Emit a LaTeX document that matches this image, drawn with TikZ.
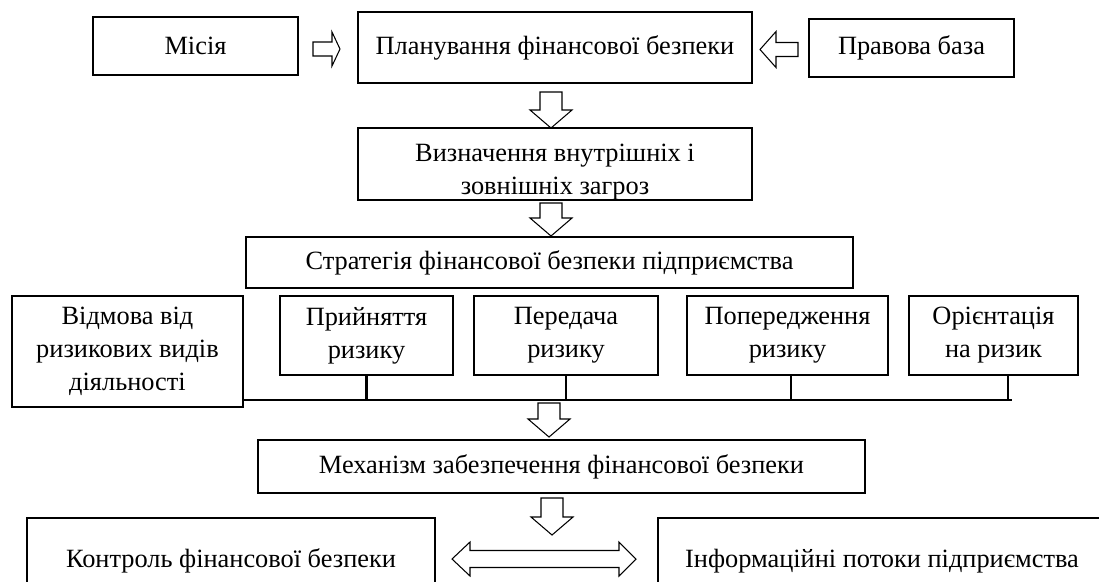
\documentclass[tikz,border=0pt]{standalone}
\usepackage{fontspec}
\setmainfont{Liberation Serif}
\begin{document}
\begin{tikzpicture}[
	box/.style={draw, line width=0.6pt, align=center, inner sep=0pt, font=\fontsize{15}{18.8}\selectfont},
	thick box/.style={box, line width=1.1pt},
	bus/.style={line width=1.2pt},
	arr/.style={draw, line width=0.6pt, line join=miter},
	pics/downarr/.style={code={
		\draw[arr] (-0.22,0) -- (0.22,0) -- (0.22,{0.36-#1}) -- (0.42,{0.36-#1}) -- (0,-#1)
			-- (-0.42,{0.36-#1}) -- (-0.22,{0.36-#1}) -- cycle;}}
	]
	\clip (0,0) rectangle (21.98,-11.62);

	\node[thick box, minimum width=4.10cm, minimum height=1.16cm] (misia) at (3.91,-0.92) {Місія};
	\node[box, minimum width=7.88cm, minimum height=1.42cm] (plan) at (11.10,-0.95) {Планування фінансової безпеки};
	\node[thick box, minimum width=4.10cm, minimum height=1.16cm] (pravo) at (18.23,-0.96) {Правова база};
	\node[box, minimum width=7.88cm, minimum height=1.44cm] (vyzn) at (11.10,-3.28) {\rule{0pt}{0.66cm}Визначення внутрішніх і\\зовнішніх загроз};
	\node[box, minimum width=12.14cm, minimum height=1.02cm] (strat) at (10.99,-5.25) {Стратегія фінансової безпеки підприємства};

	\node[box, minimum width=4.62cm, minimum height=2.22cm] (vidm) at (2.55,-7.03) {Відмова від\\ризикових видів\\діяльності};
	\node[box, minimum width=3.46cm, minimum height=1.58cm] (pryi) at (7.33,-6.71) {Прийняття\\ризику};
	\node[box, minimum width=3.68cm, minimum height=1.58cm] (pered) at (11.32,-6.71) {Передача\\ризику};
	\node[box, minimum width=4.02cm, minimum height=1.58cm] (poper) at (15.75,-6.71) {Попередження\\ризику};
	\node[box, minimum width=3.38cm, minimum height=1.58cm] (orient) at (19.87,-6.71) {Орієнтація\\на ризик};

	\node[box, minimum width=12.14cm, minimum height=1.06cm] (mech) at (11.23,-9.33) {Механізм забезпечення фінансової безпеки};
	\node[box, minimum width=8.16cm, minimum height=1.72cm] (kontr) at (4.62,-11.22) {Контроль фінансової безпеки};
	\node[box, minimum width=8.96cm, minimum height=1.72cm] (inform) at (17.64,-11.22) {Інформаційні потоки підприємства};

	\draw[arr] (6.26,-0.84) -- (6.64,-0.84) -- (6.64,-0.64) -- (6.80,-0.98) -- (6.64,-1.32)
		-- (6.64,-1.12) -- (6.26,-1.12) -- cycle;
	\draw[arr] (15.96,-0.85) -- (15.52,-0.85) -- (15.52,-0.63) -- (15.20,-0.99) -- (15.52,-1.35)
		-- (15.52,-1.13) -- (15.96,-1.13) -- cycle;
	\pic at (11.02,-1.84) {downarr=0.72};
	\pic at (11.02,-4.06) {downarr=0.66};
	\pic at (10.98,-8.06) {downarr=0.68};
	\pic at (11.04,-9.96) {downarr=0.74};
	\draw[arr] (9.40,-11.01) -- (12.38,-11.01) -- (12.38,-10.84) -- (12.72,-11.18) -- (12.38,-11.52)
		-- (12.38,-11.35) -- (9.40,-11.35) -- (9.40,-11.52) -- (9.04,-11.18) -- (9.40,-10.84) -- cycle;

	\coordinate (busend) at (20.24,-8.00);
	\draw[bus] (vidm.east |- busend) -- (busend);
	\draw[bus] (pryi.south) -- (pryi.south |- busend);
	\draw[bus] (pered.south) -- (pered.south |- busend);
	\draw[bus] ([xshift=0.07cm]poper.south) -- ([xshift=0.07cm]poper.south |- busend);
	\draw[bus] ([xshift=-0.08cm]busend |- orient.south) -- ([xshift=-0.08cm]busend);
\end{tikzpicture}
\end{document}
